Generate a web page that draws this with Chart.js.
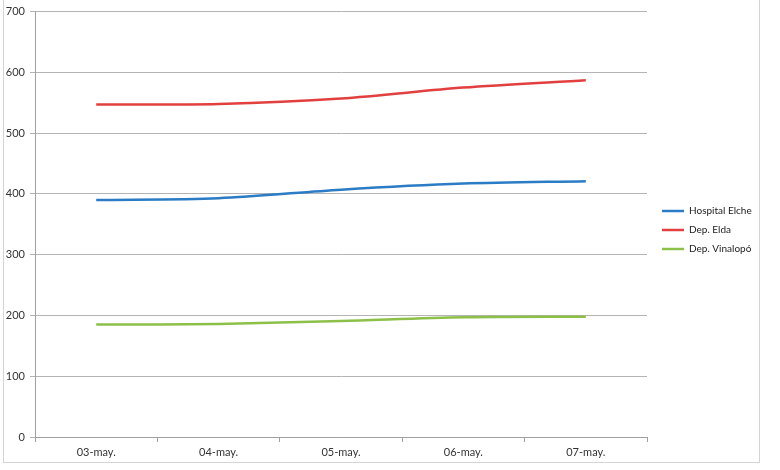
<!DOCTYPE html>
<html>
<head>
<meta charset="utf-8">
<script src="https://cdn.jsdelivr.net/npm/chart.js@4.4.1/dist/chart.umd.min.js"></script>
<style>
  body { margin: 0; background: #fff; }
  #box {
    position: absolute; left: 3px; top: 0px;
    width: 755px; height: 462px;
    border: 1px solid #d4d4d4; border-top: none;
  }
</style>
</head>
<body>
<div id="box"><canvas id="chart" width="755" height="462"></canvas></div>
<script>
const labels = ["03-may.", "04-may.", "05-may.", "06-may.", "07-may."];
const hospitalElche = [390, 393, 407, 417, 421];
const depElda = [547, 548, 557, 575, 587];
const depVinalopo = [185, 186, 191, 197, 198];
const yTicks = [0, 100, 200, 300, 400, 500, 600, 700];

const font = { family: "Lato, 'Open Sans', sans-serif", size: 11 };
const legendFont = { family: "Lato, 'Open Sans', sans-serif", size: 10 };

function series(label, data, color) {
  return {
    label: label,
    data: data,
    borderColor: color,
    backgroundColor: color,
    borderWidth: 2.5,
    pointRadius: 0,
    tension: 0.3,
    fill: false,
  };
}

// fix legend width and nudge it to where the reference puts it
const legendPlace = {
  id: "legendPlace",
  beforeUpdate(chart) {
    const lg = chart.legend;
    if (lg && !lg._wrapped) {
      const fit = lg.fit.bind(lg);
      lg.fit = function () { fit(); this.width = 112; };
      lg._wrapped = true;
    }
  },
  afterLayout(chart) {
    const lg = chart.legend;
    lg.left += 6;
    lg.right += 6;
    lg.top -= 5;
    lg.bottom -= 5;
  },
};

new Chart(document.getElementById("chart"), {
  type: "line",
  data: {
    labels: labels,
    datasets: [
      series("Hospital Elche", hospitalElche, "#2b7cc4"),
      series("Dep. Elda", depElda, "#e2403f"),
      series("Dep. Vinalopó", depVinalopo, "#8cc048"),
    ],
  },
  options: {
    responsive: false,
    animation: false,
    layout: { padding: { top: 8, right: 0, bottom: 0, left: 0 } },
    plugins: {
      tooltip: { enabled: false },
      legend: {
        position: "right",
        labels: {
          font: legendFont,
          color: "#222",
          usePointStyle: true,
          pointStyle: "line",
          pointStyleWidth: 22,
          padding: 9,
        },
      },
    },
    scales: {
      x: {
        offset: true,
        grid: { offset: true, drawOnChartArea: false, color: "#a0a0a0", tickLength: 5 },
        border: { color: "#a0a0a0" },
        ticks: { font: font, color: "#333", maxRotation: 0, padding: 4 },
        afterFit: function (s) { s.height = 25; },
      },
      y: {
        min: 0,
        max: 700,
        afterBuildTicks: function (s) { s.ticks = yTicks.map(v => ({ value: v })); },
        grid: { color: "#b4b4b4", tickLength: 5 },
        border: { color: "#a0a0a0" },
        ticks: { font: font, color: "#333", padding: 5 },
        afterFit: function (s) { s.width = 31; },
      },
    },
  },
  plugins: [legendPlace],
});
</script>
</body>
</html>
